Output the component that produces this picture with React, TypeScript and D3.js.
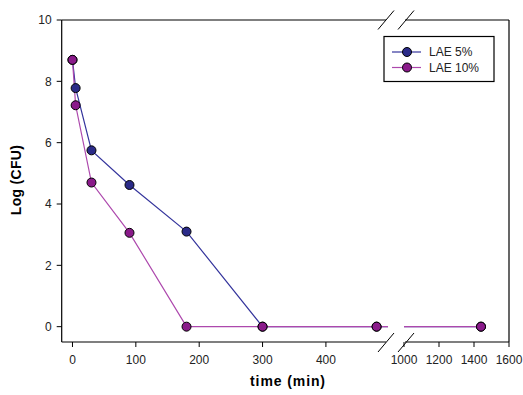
import React from "react";
import * as d3 from "d3";

// Survival time points (min) and log counts for each treatment
const timesLAE5 = [0, 5, 30, 90, 180, 300, 480, 1440];
const logLAE5 = [8.7, 7.78, 5.75, 4.62, 3.1, 0, 0, 0];
const timesLAE10 = [0, 5, 30, 90, 180, 300, 480, 1440];
const logLAE10 = [8.7, 7.22, 4.7, 3.06, 0, 0, 0, 0];

const seriesNames = ["LAE 5%", "LAE 10%"];
const yTicks = [0, 2, 4, 6, 8, 10];
const xTicksLeft = [0, 100, 200, 300, 400];
const xTicksRight = [1000, 1200, 1400, 1600];

const W = 523;
const H = 395;
const FONT = "'Liberation Sans', Arial, sans-serif";

const plotLeft = 61.7;
const plotRight = 509;
const plotTop = 20;
const plotBottom = 342;
const gapL = 386;
const gapR = 405;

// Broken x-axis: two linear segments
const xLeft = d3.scaleLinear().domain([-17, 498]).range([plotLeft, 388]);
const xRight = d3.scaleLinear().domain([1000, 1600]).range([404, plotRight]);
const y = d3.scaleLinear().domain([-0.5, 10]).range([plotBottom, plotTop]);

const LEFT_MAX = 498;
const RIGHT_MIN = 1000;

type Pt = { t: number; v: number };

function segments(pts: Pt[]): Pt[][] {
  // split polyline at the axis break
  const left: Pt[] = [];
  const right: Pt[] = [];
  for (let i = 0; i < pts.length; i++) {
    const p = pts[i];
    if (p.t <= LEFT_MAX) left.push(p);
    else right.push(p);
  }
  if (left.length && right.length) {
    const a = left[left.length - 1];
    const b = right[0];
    // continue the line to the edges of each segment
    const frac1 = (LEFT_MAX - a.t) / (b.t - a.t);
    left.push({ t: LEFT_MAX, v: a.v + (b.v - a.v) * frac1 });
    const frac2 = (RIGHT_MIN - a.t) / (b.t - a.t);
    right.unshift({ t: RIGHT_MIN, v: a.v + (b.v - a.v) * frac2 });
  }
  return [left, right];
}

const xPos = (t: number) => (t <= LEFT_MAX ? xLeft(t) : t < RIGHT_MIN ? gapR : xRight(t));

const lineGen = d3
  .line<Pt>()
  .x((d) => xPos(d.t))
  .y((d) => y(d.v));

const series = [
  {
    name: seriesNames[0],
    pts: timesLAE5.map((t, i) => ({ t, v: logLAE5[i] })),
    line: "#34349c",
    fill: "#2a2a88",
  },
  {
    name: seriesNames[1],
    pts: timesLAE10.map((t, i) => ({ t, v: logLAE10[i] })),
    line: "#ad48ad",
    fill: "#8a1a8a",
  },
];

export default function App() {
  const slash = (cx: number, cy: number, key: string) => (
    <line
      key={key}
      x1={cx - 8}
      y1={cy + 9.5}
      x2={cx + 8}
      y2={cy - 9.5}
      stroke="#000"
      strokeWidth={1}
    />
  );

  return (
    <svg
      width={W}
      height={H}
      style={{ position: "absolute", left: 0, top: 0, background: "#fff" }}
      fontFamily={FONT}
    >
      <rect x={0} y={0} width={W} height={H} fill="#fff" />

      {/* frame with breaks on top and bottom */}
      <g stroke="#000" strokeWidth={1.2} fill="none">
        <line x1={plotLeft} y1={plotTop} x2={plotLeft} y2={plotBottom} />
        <line x1={plotRight} y1={plotTop} x2={plotRight} y2={plotBottom} />
        <line x1={plotLeft} y1={plotTop} x2={gapL} y2={plotTop} />
        <line x1={gapR} y1={plotTop} x2={plotRight} y2={plotTop} />
        <line x1={plotLeft} y1={plotBottom} x2={gapL} y2={plotBottom} />
        <line x1={gapR} y1={plotBottom} x2={plotRight} y2={plotBottom} />
      </g>
      {slash(gapL, plotTop, "t1")}
      {slash(gapR + 1, plotTop, "t2")}
      {slash(gapL, plotBottom + 0.5, "b1")}
      {slash(gapR + 1, plotBottom + 0.5, "b2")}

      {/* y axis ticks */}
      {yTicks.map((v) => (
        <g key={"y" + v}>
          <line x1={plotLeft - 5} x2={plotLeft} y1={y(v)} y2={y(v)} stroke="#000" />
          <text
            x={plotLeft - 10}
            y={y(v)}
            dy="0.35em"
            textAnchor="end"
            fontSize={12}
            fill="#222"
          >
            {v}
          </text>
        </g>
      ))}

      {/* x axis ticks */}
      {xTicksLeft.map((t) => (
        <g key={"xl" + t}>
          <line x1={xLeft(t)} x2={xLeft(t)} y1={plotBottom} y2={plotBottom + 5} stroke="#000" />
          <text x={xLeft(t)} y={plotBottom + 22} textAnchor="middle" fontSize={12} fill="#222">
            {t}
          </text>
        </g>
      ))}
      {xTicksRight.map((t) => (
        <g key={"xr" + t}>
          <line x1={xRight(t)} x2={xRight(t)} y1={plotBottom} y2={plotBottom + 5} stroke="#000" />
          <text x={xRight(t)} y={plotBottom + 22} textAnchor="middle" fontSize={12} fill="#222">
            {t}
          </text>
        </g>
      ))}

      {/* axis titles */}
      <text
        x={288}
        y={386}
        textAnchor="middle"
        fontSize={14}
        fontWeight="bold"
        letterSpacing={0.9}
        fill="#000"
      >
        time (min)
      </text>
      <text
        transform={`translate(21,180) rotate(-90)`}
        textAnchor="middle"
        fontSize={14}
        fontWeight="bold"
        letterSpacing={0.3}
        fill="#000"
      >
        Log (CFU)
      </text>

      {/* lines */}
      {series.map((s) =>
        segments(s.pts).map((seg, i) => (
          <path
            key={s.name + i}
            d={lineGen(seg) || ""}
            fill="none"
            stroke={s.line}
            strokeWidth={1.2}
          />
        ))
      )}

      {/* markers */}
      {series.map((s) =>
        s.pts.map((p, i) => (
          <circle
            key={s.name + "p" + i}
            cx={xPos(p.t)}
            cy={y(p.v)}
            r={4.5}
            fill={s.fill}
            stroke="#000"
            strokeWidth={1}
          />
        ))
      )}

      {/* legend */}
      <rect x={384} y={36.5} width={110} height={45} fill="#fff" stroke="#000" strokeWidth={1.2} />
      {series.map((s, i) => {
        const ly = 52 + i * 15.5;
        return (
          <g key={"lg" + i}>
            <line x1={392} x2={421} y1={ly} y2={ly} stroke={s.line} strokeWidth={1.2} />
            <circle cx={407} cy={ly} r={4.5} fill={s.fill} stroke="#000" strokeWidth={1} />
            <text x={429} y={ly} dy="0.35em" fontSize={12} fill="#222">
              {s.name}
            </text>
          </g>
        );
      })}
    </svg>
  );
}
